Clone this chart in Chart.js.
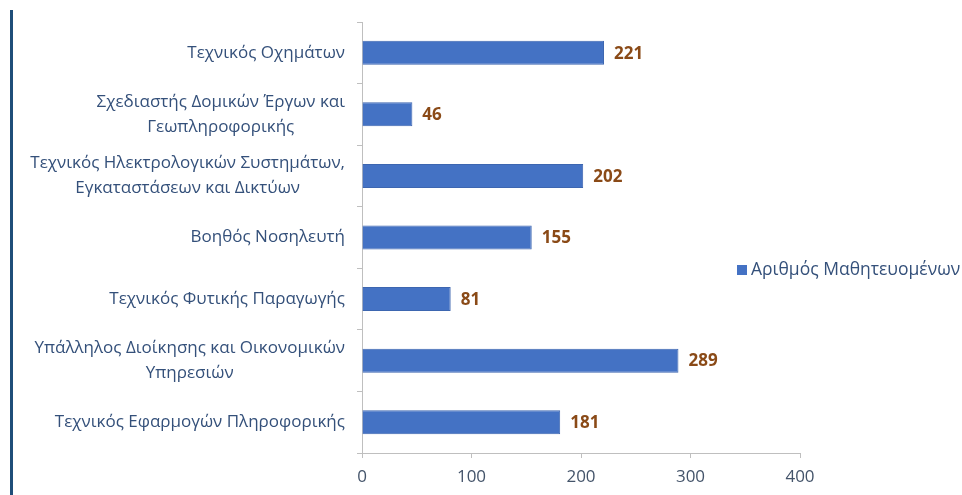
<!DOCTYPE html>
<html>
<head>
<meta charset="utf-8">
<script src="https://cdn.jsdelivr.net/npm/chart.js@4.4.1/dist/chart.umd.min.js"></script>
<style>
  html, body { margin: 0; padding: 0; background: #fff; overflow: hidden; }
  #wrap { position: relative; width: 962px; height: 495px; }
  #leftbar { position: absolute; left: 10px; top: 10px; width: 3px; height: 485px; background: #1f4e79; }
  #legend { position: absolute; left: 737px; top: 256px; white-space: nowrap;
            font-family: "Open Sans", sans-serif; font-size: 17.5px; color: #34507a; }
  #legend span.box { display: inline-block; width: 10px; height: 10px; background: #4472c4; margin-right: 4px; }
</style>
</head>
<body>
<div id="wrap">
  <canvas id="barChart" width="962" height="495"></canvas>
  <div id="leftbar"></div>
  <div id="legend"></div>
</div>
<script>
const categories = [
  ['Τεχνικός Οχημάτων'],
  ['Σχεδιαστής Δομικών Έργων και', 'Γεωπληροφορικής'],
  ['Τεχνικός Ηλεκτρολογικών Συστημάτων,', 'Εγκαταστάσεων και Δικτύων'],
  ['Βοηθός Νοσηλευτή'],
  ['Τεχνικός Φυτικής Παραγωγής'],
  ['Υπάλληλος Διοίκησης και Οικονομικών', 'Υπηρεσιών'],
  ['Τεχνικός Εφαρμογών Πληροφορικής']
];
const seriesLabel = 'Αριθμός Μαθητευομένων';
const students = [221, 46, 202, 155, 81, 289, 181];
const xTicks = [0, 100, 200, 300, 400];

const labelFont = '17px "Open Sans", sans-serif';

// category labels: block right aligned, lines centred inside the block
const catLabels = {
  id: 'catLabels',
  afterDraw(chart) {
    const y = chart.scales.y;
    const ctx = chart.ctx;
    ctx.save();
    ctx.font = labelFont;
    ctx.fillStyle = '#34507a';
    ctx.textAlign = 'center';
    ctx.textBaseline = 'middle';
    const right = y.right - 17;
    const lh = 25;
    categories.forEach((lines, i) => {
      const w = Math.max(...lines.map(l => ctx.measureText(l).width));
      const cx = right - w / 2;
      const cy = y.getPixelForValue(i);
      lines.forEach((l, j) => {
        ctx.fillText(l, cx, cy + (j - (lines.length - 1) / 2) * lh);
      });
    });
    ctx.restore();
  }
};

// value labels at bar ends
const valueLabels = {
  id: 'valueLabels',
  afterDatasetsDraw(chart) {
    const ctx = chart.ctx;
    const meta = chart.getDatasetMeta(0);
    ctx.save();
    ctx.font = 'bold 17px "Open Sans", sans-serif';
    ctx.fillStyle = '#8a4a17';
    ctx.textAlign = 'left';
    ctx.textBaseline = 'middle';
    meta.data.forEach((bar, i) => {
      ctx.fillText(students[i], bar.x + 10, bar.y + 1);
    });
    ctx.restore();
  }
};

const ctx = document.getElementById('barChart').getContext('2d');
const chart = new Chart(ctx, {
  type: 'bar',
  data: {
    labels: categories.map(c => c.join(' ')),
    datasets: [{
      label: seriesLabel,
      data: students,
      backgroundColor: '#4472c4',
      borderColor: '#3d66b0',
      borderWidth: 1,
      barPercentage: 0.78,
      categoryPercentage: 0.5,
    }],
  },
  options: {
    indexAxis: 'y',
    responsive: false,
    animation: false,
    layout: { padding: { top: 22, right: 162, left: 0, bottom: 0 } },
    plugins: { legend: { display: false }, tooltip: { enabled: false } },
    scales: {
      x: {
        min: 0,
        max: 400,
        afterBuildTicks: (s) => { s.ticks = xTicks.map(v => ({ value: v })); },
        border: { color: '#bfbfbf', width: 1 },
        grid: { drawOnChartArea: false, tickLength: 5, color: '#bfbfbf' },
        ticks: { color: '#44546a', font: { family: '"Open Sans", sans-serif', size: 17 }, padding: 9 },
        afterFit: (s) => { s.height = 42; },
      },
      y: {
        border: { color: '#bfbfbf', width: 1 },
        grid: { drawOnChartArea: false, tickLength: 5, color: '#bfbfbf', offset: true },
        ticks: { color: 'rgba(0,0,0,0)', font: { size: 14 } },
        afterFit: (s) => { s.width = 362; },
      },
    },
  },
  plugins: [catLabels, valueLabels],
});

document.getElementById('legend').innerHTML = '<span class="box"></span>' + seriesLabel;
</script>
</body>
</html>
